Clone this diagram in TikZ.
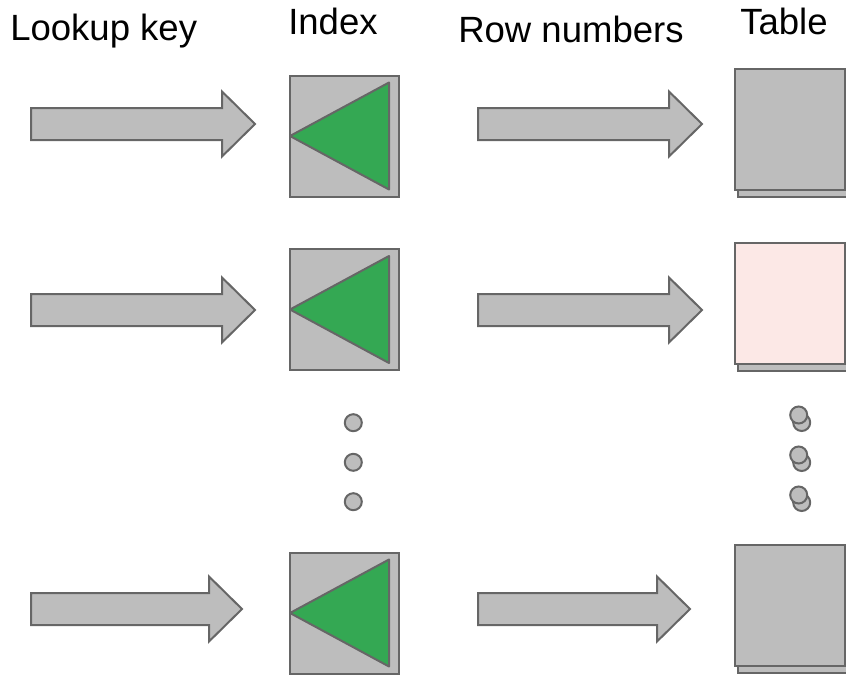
\documentclass[tikz,border=0pt]{standalone}
\usepackage{fontspec}
\setmainfont{Liberation Sans}
\usetikzlibrary{calc}

\definecolor{boxgray}{HTML}{BDBDBD}
\definecolor{edgegray}{HTML}{666666}
\definecolor{idxgreen}{HTML}{34A853}
\definecolor{rowpink}{HTML}{FCE8E6}

% block arrow: left end x, tip x, middle y
\newcommand{\fatarrow}[3]{%
  \draw[blk] (#1,#3-16) -- (#2-33,#3-16) -- (#2-33,#3-32.5) -- (#2,#3)
    -- (#2-33,#3+32.5) -- (#2-33,#3+16) -- (#1,#3+16) -- cycle;}

\begin{document}
\begin{tikzpicture}[x=0.75pt,y=-0.75pt,
  blk/.style={fill=boxgray,draw=edgegray,line width=1.5pt},
  idx/.style={blk,minimum width=81.75pt,minimum height=90.75pt,inner sep=0pt},
  tri/.style={fill=idxgreen,draw=edgegray,line width=1.5pt,line join=round},
  tbl/.style={blk,minimum width=82.5pt,minimum height=90.75pt,inner sep=0pt},
  dot/.style={blk,circle,minimum size=12.75pt,inner sep=0pt},
  lbl/.style={anchor=base west,inner sep=0pt,font=\fontsize{27.4}{33}\selectfont}]
  \useasboundingbox (0,0) rectangle (846,675);

  % headings
  \node[lbl] (keyl) at (10,40) {Lookup key};
  \node[lbl] (idxl) at (288,34) {Index};
  \node[lbl] (rowl) at (458,42) {Row numbers};
  \node[lbl] (tbll) at (740,34) {Table};

  % arrows into and out of the indexes
  \fatarrow{31}{255}{124}
  \fatarrow{478}{702}{124}
  \fatarrow{31}{255}{310}
  \fatarrow{478}{702}{310}
  \fatarrow{31}{242}{609}
  \fatarrow{478}{690}{609}

  % indexes
  \foreach \y [count=\i] in {136,309.5,613} {
    \node[idx] (idx\i) at (344.5,\y) {};
    \draw[tri] ($(idx\i.west)+(1,0)$) -- ($(idx\i.north east)+(-11,8)$)
      -- ($(idx\i.south east)+(-11,-8)$) -- cycle;
  }

  % tables, each with one sheet behind
  \node[tbl] (tbl1b) at (793.3,136) {};
  \node[tbl] (tbl1) at (790,129.5) {};
  \node[tbl] (tbl2b) at (793.3,310) {};
  \node[tbl,fill=rowpink] (tbl2) at (790,303.3) {};
  \node[tbl] (tbl3b) at (793.3,612) {};
  \node[tbl] (tbl3) at (790,605.5) {};

  % more of the same
  \foreach \y [count=\i] in {422.7,462.3,501.7}
    \node[dot] (idxgap\i) at (353.3,\y) {};
  \foreach \y [count=\i] in {415,455,495} {
    \node[dot] (tblgapb\i) at (801.7,\y+7.5) {};
    \node[dot] (tblgap\i) at (798.7,\y) {};
  }
\end{tikzpicture}
\end{document}
